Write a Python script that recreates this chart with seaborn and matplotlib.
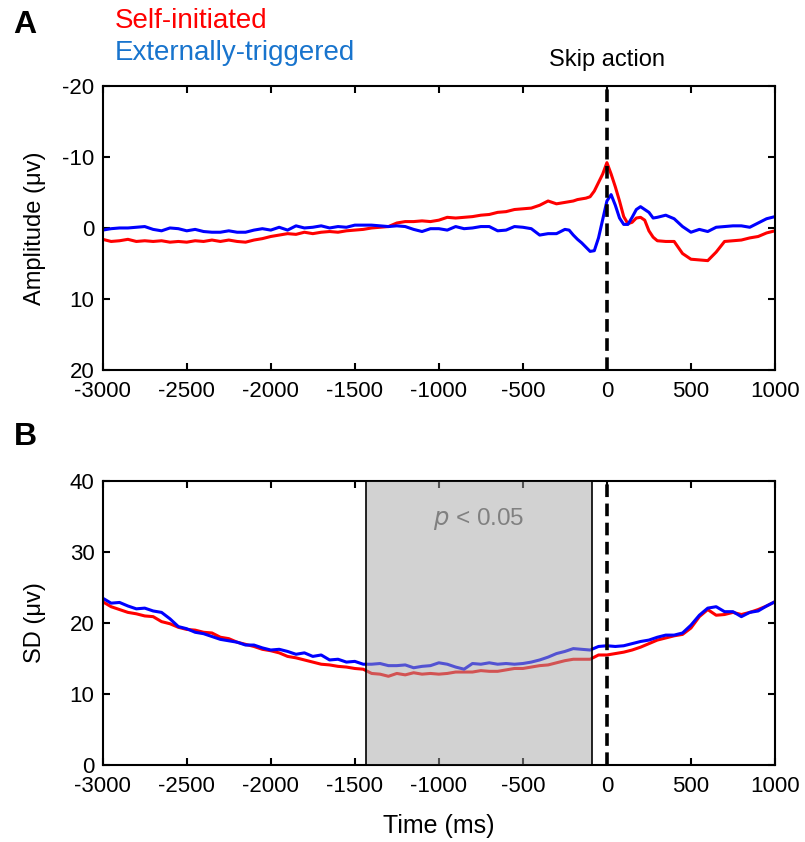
import numpy as np
import pandas as pd
import matplotlib
matplotlib.use("Agg")
import matplotlib.pyplot as plt
import seaborn as sns

# ---- data ----------------------------------------------------------------
# panel A: ERP amplitude (uV), finer sampling around the action
time_a = np.concatenate([np.arange(-3000, -299, 50),
                         np.arange(-275, 276, 25),
                         np.arange(300, 1001, 50)])

self_amp = [1.6, 1.9, 1.8, 1.6, 1.9, 1.8, 1.9, 1.8, 2.0, 1.9,
            2.0, 1.8, 1.9, 1.7, 1.9, 1.7, 1.9, 2.0, 1.7, 1.5,
            1.2, 1.0, 0.8, 0.9, 0.6, 0.8, 0.6, 0.5, 0.6, 0.4,
            0.3, 0.2, 0.0, -0.1, -0.2, -0.7, -0.9, -0.9, -1.0, -0.9,
            -1.1, -1.5, -1.4, -1.5, -1.6, -1.8, -1.9, -2.2, -2.3, -2.6,
            -2.7, -2.8, -3.2, -3.8, -3.4,
            -3.5, -3.6, -3.7, -3.8, -4.0, -4.1, -4.2, -4.4, -5.2, -6.4,
            -7.6, -9.2, -7.6, -5.8, -3.8, -1.6, -0.6, -0.8, -1.4, -1.5,
            -1.1, 0.4, 1.3,
            1.8, 1.9, 1.9, 3.6, 4.4, 4.5, 4.6, 3.4, 1.9, 1.8,
            1.7, 1.4, 1.2, 0.7, 0.4]

ext_amp = [0.3, 0.1, 0.0, 0.0, -0.1, -0.2, 0.2, 0.4, 0.0, 0.1,
           0.4, 0.2, 0.5, 0.6, 0.6, 0.4, 0.6, 0.6, 0.3, 0.1,
           0.3, -0.1, 0.3, -0.3, 0.0, -0.1, -0.3, 0.0, -0.2, -0.1,
           -0.4, -0.4, -0.4, -0.3, -0.2, -0.3, -0.2, 0.2, 0.5, 0.1,
           0.1, 0.3, -0.2, 0.1, 0.0, -0.2, -0.2, 0.4, 0.3, -0.2,
           -0.1, 0.1, 1.0, 0.8, 0.8,
           0.5, 0.2, 0.3, 1.0, 1.6, 2.1, 2.7, 3.3, 3.2, 1.4,
           -1.2, -3.8, -4.7, -3.2, -1.4, -0.5, -0.5, -1.5, -2.6, -3.0,
           -2.6, -2.2, -1.4,
           -1.5, -1.8, -1.3, -0.2, 0.6, 0.2, 0.5, -0.1, -0.2, -0.3,
           -0.3, -0.1, -0.7, -1.3, -1.6]

# panel B: across-trial SD (uV)
time_b = np.arange(-3000, 1001, 50)

self_sd = [23.0, 22.3, 21.9, 21.5, 21.3, 21.0, 20.9, 20.2, 19.9, 19.4,
           19.1, 19.0, 18.7, 18.6, 18.0, 17.8, 17.3, 17.0, 16.7, 16.3,
           16.1, 15.8, 15.3, 15.1, 14.8, 14.5, 14.2, 14.1, 13.9, 13.8,
           13.6, 13.5, 12.9, 12.8, 12.5, 12.9, 12.7, 13.0, 12.8, 12.9,
           12.8, 12.9, 13.1, 13.1, 13.1, 13.3, 13.2, 13.2, 13.4, 13.6,
           13.6, 13.8, 14.0, 14.1, 14.4, 14.7, 14.9, 14.9, 14.9, 15.5,
           15.5, 15.7, 15.9, 16.2, 16.6, 17.1, 17.6, 17.9, 18.2, 18.4,
           19.3, 20.9, 21.9, 21.1, 21.2, 21.5, 21.2, 21.5, 21.9, 22.4,
           23.0]

ext_sd = [23.5, 22.8, 22.9, 22.4, 22.0, 22.1, 21.7, 21.5, 20.6, 19.5,
          19.2, 18.7, 18.5, 18.1, 17.7, 17.5, 17.3, 16.9, 16.9, 16.5,
          16.2, 16.3, 16.0, 15.6, 15.8, 15.3, 15.5, 14.8, 14.9, 14.5,
          14.6, 14.2, 14.2, 14.3, 14.0, 14.0, 14.1, 13.7, 13.9, 14.0,
          14.4, 14.2, 13.8, 13.5, 14.3, 14.2, 14.4, 14.2, 14.3, 14.2,
          14.3, 14.5, 14.8, 15.2, 15.7, 16.0, 16.4, 16.3, 16.2, 16.7,
          16.8, 16.7, 16.8, 17.1, 17.4, 17.6, 18.0, 18.3, 18.3, 18.6,
          19.7, 21.1, 22.1, 22.3, 21.6, 21.6, 20.9, 21.5, 21.7, 22.4,
          23.0]

sig_window = (-1435, -87)
x_ticks = [-3000, -2500, -2000, -1500, -1000, -500, 0, 500, 1000]

# ---- style ----------------------------------------------------------------
sns.set_style("ticks")
plt.rcParams["font.family"] = ["Liberation Sans", "DejaVu Sans"]
plt.rcParams["axes.unicode_minus"] = False
plt.rcParams["text.color"] = "black"
plt.rcParams["axes.labelcolor"] = "black"

RED = "#ff0000"
BLUE = "#0000ff"


def style_axes(ax):
    for s in ax.spines.values():
        s.set_linewidth(1.5)
        s.set_color("black")
    ax.tick_params(direction="in", length=5, width=1.5, top=True, right=True,
                   labelsize=16, colors="black")
    ax.tick_params(axis="y", pad=6)
    ax.tick_params(axis="x", pad=8)
    ax.set_xlim(-3000, 1000)
    ax.set_xticks(x_ticks)
    ax.set_xticklabels([str(t) for t in x_ticks])
    ax.yaxis.label.set_va("center")
    ax.yaxis.set_label_coords(-0.1007, 0.5)


fig = plt.figure(figsize=(8.05, 8.42), dpi=100)
ax_a = fig.add_axes([0.1276, 0.5606, 0.8351, 0.3373])
ax_b = fig.add_axes([0.1276, 0.0914, 0.8351, 0.3373])

# panel A
df_a = pd.DataFrame({"time": np.tile(time_a, 2),
                     "amp": self_amp + ext_amp,
                     "cond": ["self"] * len(time_a) + ["ext"] * len(time_a)})
sns.lineplot(data=df_a, x="time", y="amp", hue="cond",
             palette={"self": RED, "ext": BLUE}, linewidth=2.2,
             legend=False, ax=ax_a)
ax_a.axvline(0, color="black", lw=2.6, ls=(0, (3.5, 1.8)), zorder=5)
ax_a.set_ylim(20, -20)
ax_a.set_yticks([-20, -10, 0, 10, 20])
ax_a.set_xlabel("")
ax_a.set_ylabel("Amplitude (μv)", fontsize=17)
style_axes(ax_a)
ax_a.text(0, -23.6, "Skip action", ha="center", va="center", fontsize=17)

# panel B
df_b = pd.DataFrame({"time": np.tile(time_b, 2),
                     "sd": self_sd + ext_sd,
                     "cond": ["self"] * len(time_b) + ["ext"] * len(time_b)})
sns.lineplot(data=df_b, x="time", y="sd", hue="cond",
             palette={"self": RED, "ext": BLUE}, linewidth=2.2,
             legend=False, ax=ax_b)
ax_b.axvspan(*sig_window, facecolor=(0.655, 0.655, 0.655, 0.5),
             edgecolor="black", linewidth=1.2, zorder=4)
ax_b.axvline(0, color="black", lw=2.6, ls=(0, (3.5, 1.8)), zorder=5)
ax_b.set_ylim(0, 40)
ax_b.set_yticks([0, 10, 20, 30, 40])
ax_b.set_xlabel("Time (ms)", fontsize=18)
ax_b.set_ylabel("SD (μv)", fontsize=17)
style_axes(ax_b)
ax_b.xaxis.label.set_va("center")
ax_b.xaxis.set_label_coords(0.5, -0.215)
ax_b.text(np.mean(sig_window), 34.6, r"$\it{p}$ < 0.05", ha="center",
          va="center", fontsize=17.5, color="#5a5a5a")

# panel letters and condition labels
fig.text(25 / 805, 1 - 25 / 842, "A", fontsize=23, fontweight="bold",
         ha="center", va="center")
fig.text(25 / 805, 1 - 437 / 842, "B", fontsize=23, fontweight="bold",
         ha="center", va="center")
fig.text(115 / 805, 1 - 21 / 842, "Self-initiated", fontsize=20,
         color=RED, ha="left", va="center")
fig.text(115 / 805, 1 - 53 / 842, "Externally-triggered", fontsize=20,
         color="#1874cd", ha="left", va="center")

fig.savefig("out.png", dpi=100)
